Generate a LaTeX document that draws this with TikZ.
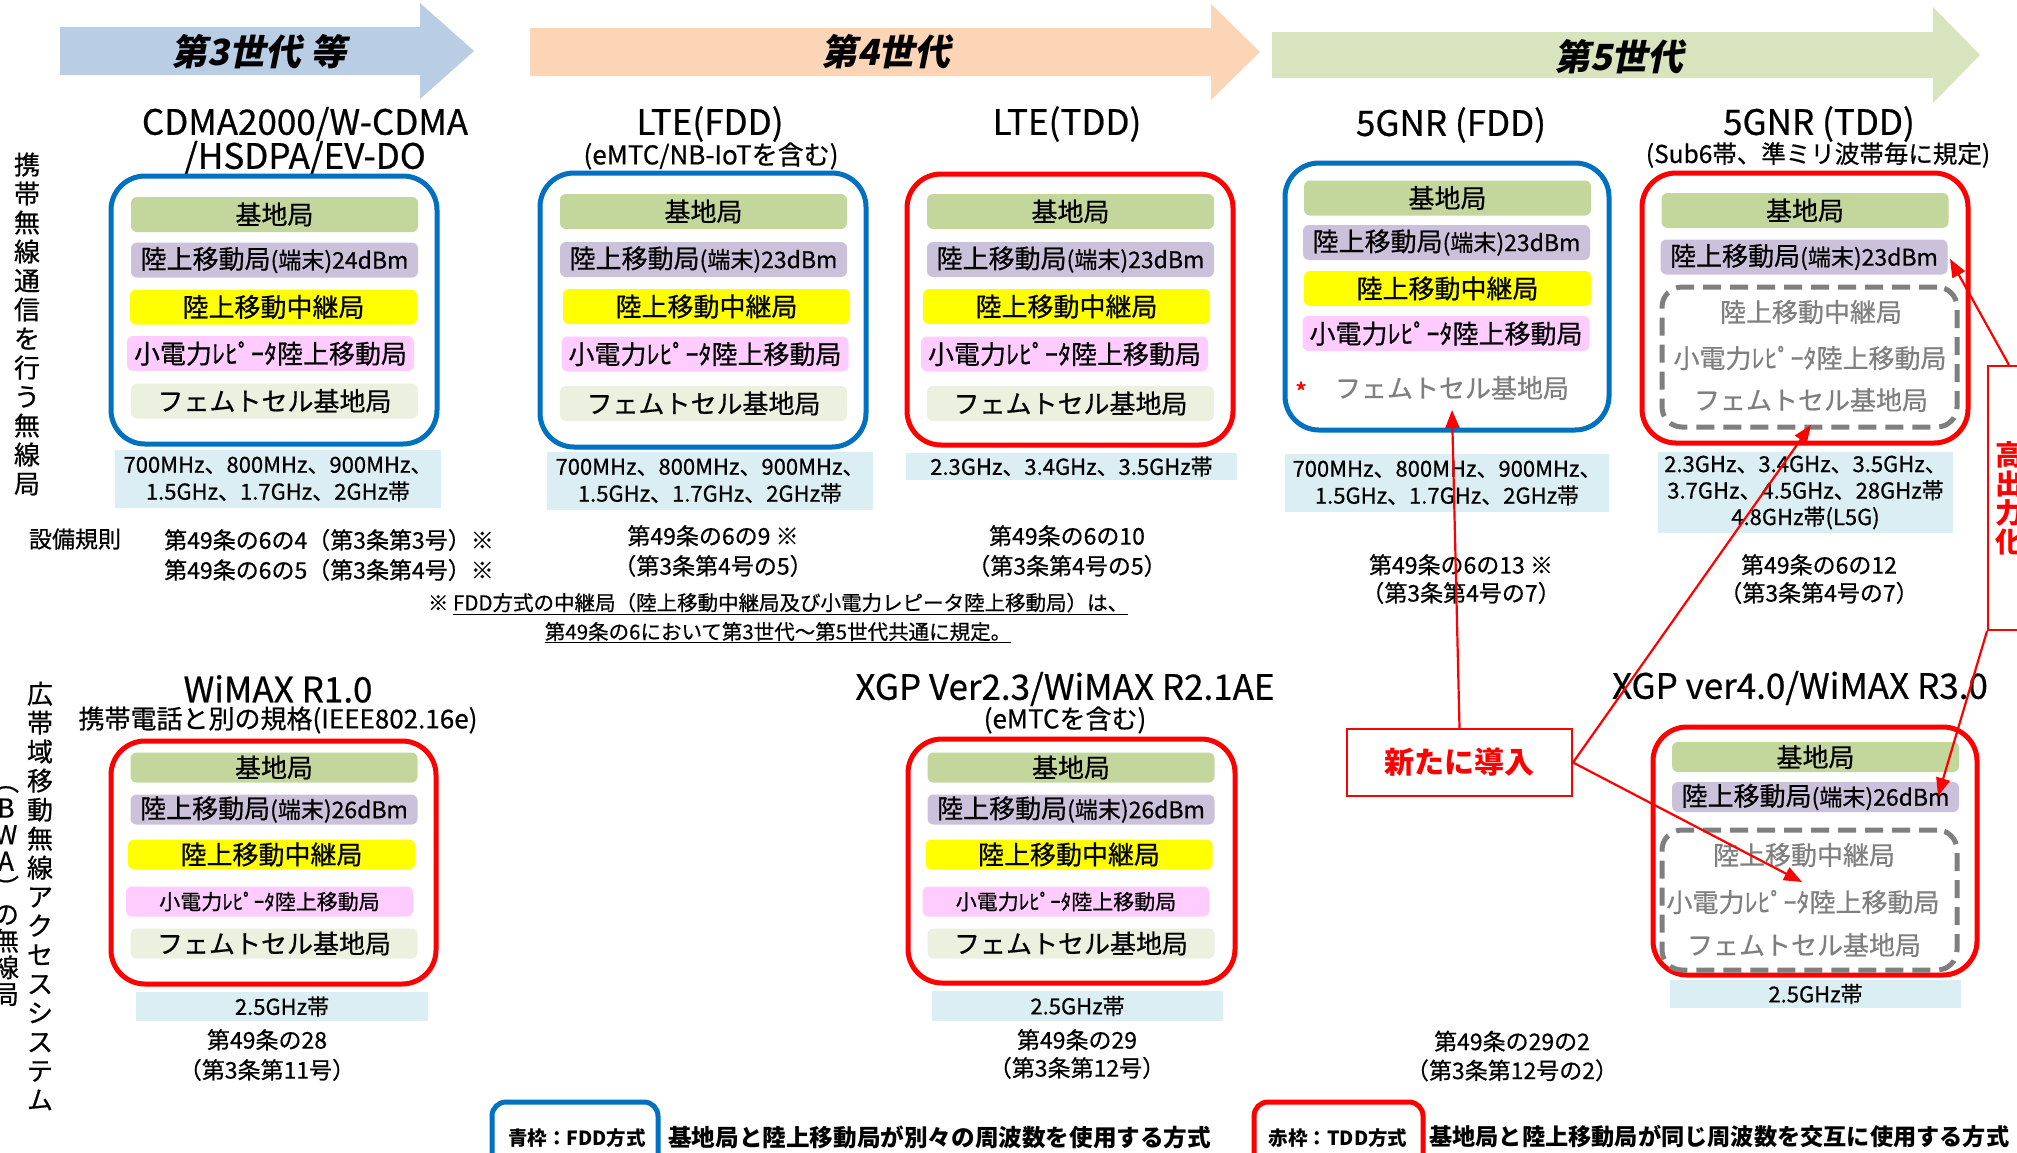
\documentclass[tikz,border=0pt]{standalone}
\usepackage{fontspec}
\setmainfont{Noto Sans CJK JP}[UprightFeatures={FakeBold=0.6}]
\newfontfamily\slantjp{Noto Sans CJK JP}[FakeSlant=0.2]
\usetikzlibrary{arrows.meta}
\definecolor{fddblue}{HTML}{0070C0}
\definecolor{tddred}{HTML}{FF0000}
\definecolor{cbase}{HTML}{C3D69B}
\definecolor{cmob}{HTML}{CCC1DA}
\definecolor{crel}{HTML}{FFFF00}
\definecolor{crep}{HTML}{FFCCFF}
\definecolor{cfem}{HTML}{EBF1DE}
\definecolor{cfreq}{HTML}{DAEEF3}
\definecolor{carA}{HTML}{B9CDE5}
\definecolor{carB}{HTML}{FBD5B5}
\definecolor{carC}{HTML}{D7E4BD}
\definecolor{cgray}{HTML}{7F7F7F}
\newcommand\myfs[2]{\fontsize{#1}{#2}\selectfont}
\newcommand\mobtxt[1]{陸上移動局{\myfs{23}{24}(端末)#1}}
\newcommand\reptxt{小電力ﾚﾋﾟｰﾀ陸上移動局}
\begin{document}
\begin{tikzpicture}[x=1pt,y=-1pt,
 fdd/.style={draw=fddblue,line width=5pt,rounded corners=34pt},
 tdd/.style={draw=tddred,line width=5pt,rounded corners=34pt},
 bar/.style={minimum width=287pt,minimum height=35pt,inner sep=0pt,rounded corners=6pt,font=\myfs{26}{28}},
 barlow/.style={bar,minimum height=30pt},
 dashbox/.style={draw=cgray,line width=5pt,dash pattern=on 18pt off 9pt,rounded corners=20pt},
 gtext/.style={text=cgray,font=\myfs{26}{28},inner sep=0pt},
 freq/.style={fill=cfreq,inner sep=0pt,align=center,font=\myfs{22}{27}},
 title/.style={font=\myfs{35}{36},inner sep=0pt},
 subt/.style={font=\myfs{26}{28},inner sep=0pt},
 reg/.style={font=\myfs{23}{30},align=center,inner sep=0pt},
 vtext/.style={font=\myfs{26}{29},align=center,inner sep=0pt},
 gen/.style={font=\slantjp\bfseries\myfs{36}{38},inner sep=0pt},
 callout/.style={draw=tddred,line width=2pt,fill=white,text=tddred,font=\bfseries\myfs{30}{32}},
 conn/.style={draw=tddred,line width=2.2pt,-{Triangle[length=18pt,width=14pt]}},
 legend/.style={line width=5pt,rounded corners=14pt},
]
\path[use as bounding box] (0,0) rectangle (2017,1152);
\clip (0,0) rectangle (2017,1152);
\fill[white] (0,0) rectangle (2017,1152);

% generation arrows
\fill[carA] (60,27) -- (420,27) -- (420,3) -- (474,51) -- (420,99) -- (420,75) -- (60,75) -- cycle;
\fill[carB] (530,28) -- (1211,28) -- (1211,4) -- (1260,52) -- (1211,100) -- (1211,76) -- (530,76) -- cycle;
\fill[carC] (1272,32) -- (1933,32) -- (1933,7) -- (1980,55) -- (1933,103) -- (1933,78) -- (1272,78) -- cycle;
\node[gen] (g3) at (259,52) {第3世代 等};
\node[gen] (g4) at (886,52) {第4世代};
\node[gen] (g5) at (1619,57) {第5世代};

% vertical row labels
\node[vtext] (v1) at (27,324) {携\\帯\\無\\線\\通\\信\\を\\行\\う\\無\\線\\局};
\node[vtext] (v2) at (40,896) {広\\帯\\域\\移\\動\\無\\線\\ア\\ク\\セ\\ス\\シ\\ス\\テ\\ム};
\node[vtext,font=\myfs{26}{26.6}] (v3) at (6,896) {︵\\B\\W\\A\\︶\\の\\無\\線\\局};

% ---------- row 1 titles
\node[title] (t1a) at (305,124) {CDMA2000/W-CDMA};
\node[title] (t1b) at (305,158) {/HSDPA/EV-DO};
\node[title] (t2a) at (710,124) {LTE(FDD)};
\node[subt] (t2b) at (711,156) {(eMTC/NB-IoTを含む)};
\node[title] (t3a) at (1067,124) {LTE(TDD)};
\node[title] (t4a) at (1451,125) {5GNR (FDD)};
\node[title] (t5a) at (1819,124) {5GNR (TDD)};
\node[subt,font=\myfs{24.5}{26}] (t5b) at (1818,155) {(Sub6帯、準ミリ波帯毎に規定)};

% ---------- box 1
\node[fdd,minimum width=326pt,minimum height=268pt] (box1) at (274,310) {};
\node[bar,fill=cbase] (b1a) at (274.5,214.5) {基地局};
\node[bar,fill=cmob] (b1b) at (274.5,260) {\mobtxt{24dBm}};
\node[bar,fill=crel] (b1c) at (273.5,307) {陸上移動中継局};
\node[bar,fill=crep] (b1d) at (270.5,353.5) {\reptxt};
\node[bar,fill=cfem] (b1e) at (274.5,401) {フェムトセル基地局};
% ---------- box 2
\node[fdd,minimum width=326pt,minimum height=274pt] (box2) at (703,310) {};
\node[bar,fill=cbase] (b2a) at (703.5,211.5) {基地局};
\node[bar,fill=cmob] (b2b) at (703.5,259.5) {\mobtxt{23dBm}};
\node[bar,fill=crel] (b2c) at (706.5,306.5) {陸上移動中継局};
\node[bar,fill=crep] (b2d) at (705,354) {\reptxt};
\node[bar,fill=cfem] (b2e) at (703.5,403.5) {フェムトセル基地局};
% ---------- box 3
\node[tdd,minimum width=326pt,minimum height=271pt] (box3) at (1070,309.5) {};
\node[bar,fill=cbase] (b3a) at (1070.5,211.5) {基地局};
\node[bar,fill=cmob] (b3b) at (1070.5,259.5) {\mobtxt{23dBm}};
\node[bar,fill=crel] (b3c) at (1066.5,306.5) {陸上移動中継局};
\node[bar,fill=crep] (b3d) at (1064.5,354) {\reptxt};
\node[bar,fill=cfem] (b3e) at (1070.5,403.5) {フェムトセル基地局};
% ---------- box 4
\node[fdd,minimum width=324pt,minimum height=267pt] (box4) at (1447,296.5) {};
\node[bar,fill=cbase] (b4a) at (1447.5,198) {基地局};
\node[bar,fill=cmob] (b4b) at (1446.5,242.5) {\mobtxt{23dBm}};
\node[bar,fill=crel] (b4c) at (1447.5,288.5) {陸上移動中継局};
\node[bar,fill=crep] (b4d) at (1446,333.5) {\reptxt};
\node[gtext] (b4e) at (1452,388) {フェムトセル基地局};
\node[text=tddred,font=\myfs{26}{26},inner sep=0pt] (ast) at (1301,392) {*};
% ---------- box 5
\node[tdd,minimum width=326pt,minimum height=270pt] (box5) at (1805,308) {};
\node[bar,fill=cbase] (b5a) at (1805,210.5) {基地局};
\node[bar,fill=cmob] (b5b) at (1804,257) {\mobtxt{23dBm}};
\node[dashbox,minimum width=295pt,minimum height=140pt] (d5) at (1809.5,357) {};
\node[gtext] (b5c) at (1811,312) {陸上移動中継局};
\node[gtext] (b5d) at (1810,358) {\reptxt};
\node[gtext] (b5e) at (1811,400) {フェムトセル基地局};

% ---------- frequency row 1
\node[freq,minimum width=326pt,minimum height=58pt] (f1) at (278,479) {700MHz、800MHz、900MHz、\\1.5GHz、1.7GHz、2GHz帯};
\node[freq,minimum width=326pt,minimum height=58pt] (f2) at (710,481) {700MHz、800MHz、900MHz、\\1.5GHz、1.7GHz、2GHz帯};
\node[freq,minimum width=331pt,minimum height=27pt] (f3) at (1071.5,466.5) {2.3GHz、3.4GHz、3.5GHz帯};
\node[freq,minimum width=324pt,minimum height=58pt] (f4) at (1447,483) {700MHz、800MHz、900MHz、\\1.5GHz、1.7GHz、2GHz帯};
\node[freq,font=\myfs{22}{26.5},minimum width=295pt,minimum height=81pt] (f5) at (1805.5,492.5) {2.3GHz、3.4GHz、3.5GHz、\\3.7GHz、4.5GHz、28GHz帯\\4.8GHz帯(L5G)};

% ---------- regulations row 1
\node[reg,font=\myfs{23}{24}] (sb) at (75,539) {設備規則};
\node[reg] (r1) at (329,555) {第49条の6の4（第3条第3号）※\\第49条の6の5（第3条第4号）※};
\node[reg] (r2) at (713,551) {第49条の6の9 ※\\（第3条第4号の5）};
\node[reg] (r3) at (1067,551) {第49条の6の10\\（第3条第4号の5）};
\node[reg,font=\myfs{23}{28}] (r4) at (1461,579) {第49条の6の13 ※\\（第3条第4号の7）};
\node[reg,font=\myfs{23}{28}] (r5) at (1819,579) {第49条の6の12\\（第3条第4号の7）};
\node[reg,font=\myfs{20.5}{29}] (note) at (778,618) {※ \underline{FDD方式の中継局（陸上移動中継局及び小電力レピータ陸上移動局）は、}\\\underline{第49条の6において第3世代～第5世代共通に規定。}};

% ---------- row 2 titles
\node[title] (t6a) at (278,689) {WiMAX R1.0};
\node[subt] (t6b) at (278,720) {携帯電話と別の規格(IEEE802.16e)};
\node[title] (t7a) at (1065,689) {XGP Ver2.3/WiMAX R2.1AE};
\node[subt] (t7b) at (1065,720) {(eMTCを含む)};
\node[title] (t8a) at (1800,688) {XGP ver4.0/WiMAX R3.0};

% ---------- WiMAX box
\node[tdd,minimum width=325pt,minimum height=243pt] (box6) at (273.5,862.5) {};
\node[barlow,fill=cbase] (b6a) at (274,767.5) {基地局};
\node[barlow,fill=cmob] (b6b) at (274,809.5) {\mobtxt{26dBm}};
\node[barlow,fill=crel] (b6c) at (271.5,854.5) {陸上移動中継局};
\node[barlow,fill=crep,font=\myfs{21}{22}] (b6d) at (269.5,901.5) {\reptxt};
\node[barlow,fill=cfem] (b6e) at (274,943.5) {フェムトセル基地局};
% ---------- XGP box
\node[tdd,minimum width=327pt,minimum height=244pt] (box7) at (1071.5,861) {};
\node[barlow,fill=cbase] (b7a) at (1071,767.5) {基地局};
\node[barlow,fill=cmob] (b7b) at (1071,809.5) {\mobtxt{26dBm}};
\node[barlow,fill=crel] (b7c) at (1069,854.5) {陸上移動中継局};
\node[barlow,fill=crep,font=\myfs{21}{22}] (b7d) at (1066,901.5) {\reptxt};
\node[barlow,fill=cfem] (b7e) at (1071,943.5) {フェムトセル基地局};
% ---------- XGP4 box
\node[tdd,minimum width=324pt,minimum height=248pt] (box8) at (1815,851) {};
\node[barlow,fill=cbase] (b8a) at (1815.5,757) {基地局};
\node[barlow,fill=cmob] (b8b) at (1815.5,797) {\mobtxt{26dBm}};
\node[dashbox,minimum width=295pt,minimum height=140pt] (d8) at (1809.5,900) {};
\node[gtext] (b8c) at (1804,855) {陸上移動中継局};
\node[gtext] (b8d) at (1803,902) {\reptxt};
\node[gtext] (b8e) at (1804,945) {フェムトセル基地局};

% ---------- frequency row 2
\node[freq,minimum width=292pt,minimum height=29pt] (f6) at (282,1006.5) {2.5GHz帯};
\node[freq,minimum width=291pt,minimum height=30pt] (f7) at (1077.5,1006) {2.5GHz帯};
\node[freq,minimum width=291pt,minimum height=28pt] (f8) at (1815.5,994) {2.5GHz帯};

% ---------- regulations row 2
\node[reg] (r6) at (267,1055) {第49条の28\\（第3条第11号）};
\node[reg,font=\myfs{23}{28}] (r7) at (1077,1054) {第49条の29\\（第3条第12号）};
\node[reg,font=\myfs{23}{29}] (r8) at (1512,1056) {第49条の29の2\\（第3条第12号の2）};

% ---------- callouts
\node[callout,minimum width=225pt,minimum height=67pt] (new) at (1459.5,762.5) {新たに導入};
\node[draw=tddred,line width=2pt,fill=white,text=tddred,font=\bfseries\myfs{28}{29},align=center,minimum width=42pt,minimum height=264pt,inner sep=0pt] (hp) at (2009,498) {高\\出\\力\\化};
\coordinate (tip1) at (1452,410);
\coordinate (tip2) at (1811,425);
\coordinate (tip3) at (1802,882);
\coordinate (tip4) at (1950,259);
\coordinate (tip5) at (1938,796);
\draw[conn] (new.north) -- (tip1);
\draw[conn] (new.east) -- (tip2);
\draw[conn] (new.east) -- (tip3);
\draw[conn] (hp.north) -- (tip4);
\draw[conn] (hp.south west) -- (tip5);

% ---------- legend
\node[legend,draw=fddblue,minimum width=166pt,minimum height=110pt] (lgb) at (575,1157) {};
\node[font=\bfseries\myfs{19.5}{20},inner sep=0pt] (lgbt) at (577,1138) {青枠：FDD方式};
\node[anchor=west,font=\bfseries\myfs{23.6}{26},inner sep=0pt] (lgbd) at (668,1137) {基地局と陸上移動局が別々の周波数を使用する方式};
\node[legend,draw=tddred,minimum width=169pt,minimum height=110pt] (lgr) at (1338.5,1157) {};
\node[font=\bfseries\myfs{19.5}{20},inner sep=0pt] (lgrt) at (1338,1138) {赤枠：TDD方式};
\node[anchor=west,font=\bfseries\myfs{23.2}{26},inner sep=0pt] (lgrd) at (1429,1137) {基地局と陸上移動局が同じ周波数を交互に使用する方式};
\end{tikzpicture}
\end{document}
